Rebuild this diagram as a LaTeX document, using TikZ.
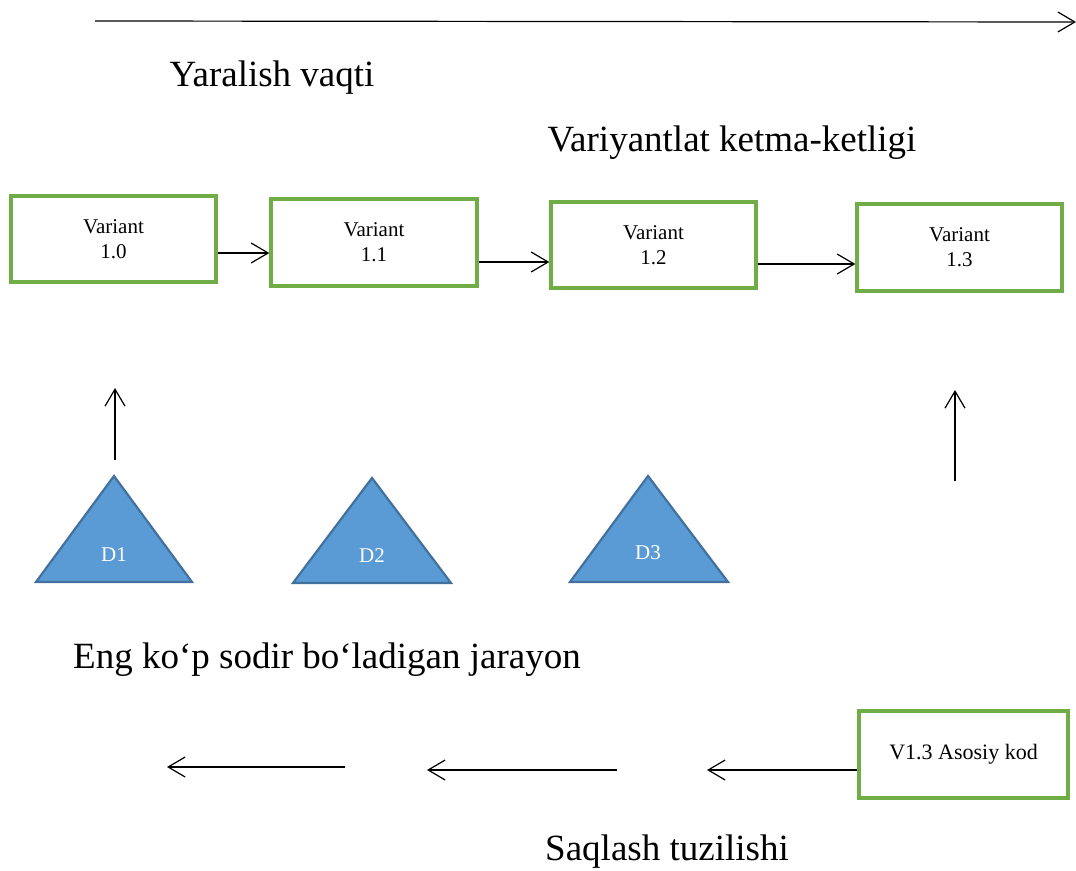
\documentclass[tikz,border=0pt]{standalone}
\usepackage{fontspec}
\setmainfont{Liberation Serif}
\usetikzlibrary{arrows.meta}
\definecolor{boxgreen}{HTML}{70AD47}
\definecolor{trifill}{HTML}{5B9BD5}
\definecolor{triedge}{HTML}{41719C}
\tikzset{
  varbox/.style={draw=boxgreen, line width=3.4pt, fill=white, inner sep=0pt,
    align=center, font=\fontsize{21}{25}\selectfont},
  bigtext/.style={font=\fontsize{37}{44}\selectfont, inner sep=0pt},
  link/.style={line width=1.2pt, -{Straight Barb[length=17pt,width=20pt,line width=1.2pt]}},
  tri/.style={fill=trifill, draw=triedge, line width=2.2pt, line join=miter},
  trilabel/.style={text=white, font=\fontsize{21}{24}\selectfont, inner sep=0pt}
}
\begin{document}
\begin{tikzpicture}[x=1pt,y=-1pt]
\useasboundingbox (0,0) rectangle (1076,870);

% time axis
\coordinate (t0) at (95,21);
\coordinate (t1) at (1076,22);
\draw[link] (t0) -- (t1);

\node[bigtext] (lblTime) at (272,78) {Yaralish vaqti};
\node[bigtext] (lblSeq) at (732,143) {Variyantlat ketma-ketligi};

% version boxes
\node[varbox, minimum width=205pt, minimum height=86pt] (v10) at (113.5,239) {Variant\\1.0};
\node[varbox, minimum width=206pt, minimum height=87pt] (v11) at (374,242.5) {Variant\\1.1};
\node[varbox, minimum width=205pt, minimum height=86pt] (v12) at (653.5,245) {Variant\\1.2};
\node[varbox, minimum width=205pt, minimum height=87pt] (v13) at (959.5,247.5) {Variant\\1.3};

\draw[link] (v10.east |- 0,253) -- (v11.west |- 0,253);
\draw[link] (v11.east |- 0,262) -- (v12.west |- 0,262);
\draw[link] (v12.east |- 0,264) -- (v13.west |- 0,264);

% upward arrows
\coordinate (uL0) at (115,460);
\coordinate (uL1) at (115,388);
\coordinate (uR0) at (955,481);
\coordinate (uR1) at (955,390);
\draw[link] (uL0) -- (uL1);
\draw[link] (uR0) -- (uR1);

% deltas
\draw[tri] (36,582) -- (114,476) -- (192,582) -- cycle;
\draw[tri] (293,583) -- (372,478) -- (451,583) -- cycle;
\draw[tri] (570,582) -- (648,476) -- (728,582) -- cycle;
\node[trilabel] (d1) at (114,555) {D1};
\node[trilabel] (d2) at (372,556) {D2};
\node[trilabel] (d3) at (648,553) {D3};

\node[bigtext] (lblFreq) at (327,660) {Eng ko‘p sodir bo‘ladigan jarayon};

% storage chain
\node[varbox, minimum width=209pt, minimum height=87pt, font=\fontsize{22}{26}\selectfont]
  (base) at (963.5,754.5) {V1.3 Asosiy kod};
\coordinate (s1a) at (617,770);
\coordinate (s1b) at (427,770);
\coordinate (s2a) at (345,767);
\coordinate (s2b) at (167,767);
\coordinate (s0b) at (707,770);
\draw[link] (base.west |- 0,770) -- (s0b);
\draw[link] (s1a) -- (s1b);
\draw[link] (s2a) -- (s2b);

\node[bigtext] (lblStore) at (667,852) {Saqlash tuzilishi};
\end{tikzpicture}
\end{document}
